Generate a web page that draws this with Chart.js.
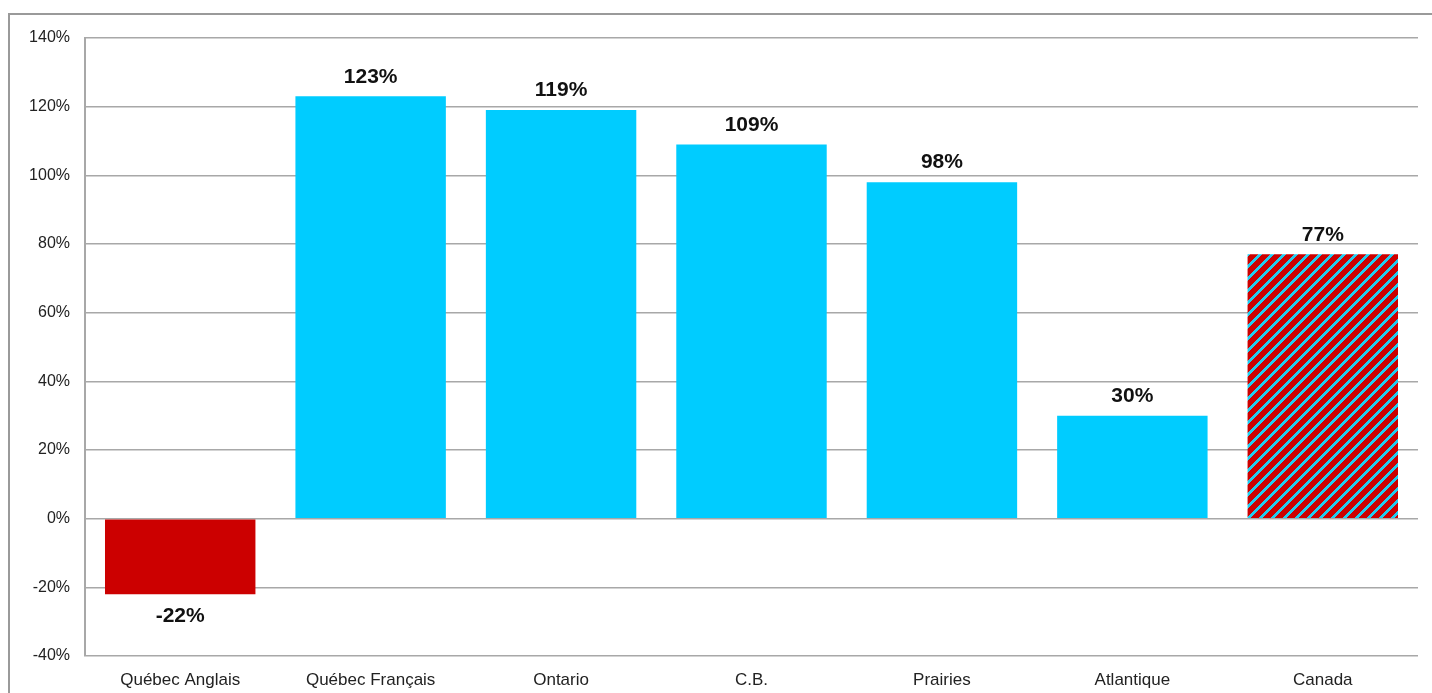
<!DOCTYPE html>
<html>
<head>
<meta charset="utf-8">
<script src="https://cdn.jsdelivr.net/npm/chart.js@4"></script>
<style>
  html, body { margin: 0; padding: 0; background: #fff; overflow: hidden; }
  #frame { position: absolute; left: 8px; top: 13px; width: 1440px; height: 700px; border: 2px solid #9a9a9a; box-sizing: border-box; }
  #wrap { position: absolute; left: 0; top: 0; width: 1432px; height: 693px; }
</style>
</head>
<body>
<div id="frame"></div>
<div id="wrap"><canvas id="chart" width="1432" height="693"></canvas></div>
<script>
// ---- Data ----
const categories = ['Québec Anglais', 'Québec Français', 'Ontario', 'C.B.', 'Prairies', 'Atlantique', 'Canada'];
const values     = [-22, 123, 119, 109, 98, 30, 77];
const yTicks     = [-40, -20, 0, 20, 40, 60, 80, 100, 120, 140];

const RED  = '#cc0000';
const CYAN = '#22ccee';
const FONT = '"Liberation Sans", Arial, sans-serif';

// ---- Striped pattern for Canada (rising diagonal stripes) ----
function makeStripes() {
  const size = 12, band = 4;
  const c = document.createElement('canvas');
  c.width = size; c.height = size;
  const g = c.getContext('2d');
  for (let y = 0; y < size; y++) {
    for (let x = 0; x < size; x++) {
      g.fillStyle = ((x + y) % size) < band ? CYAN : RED;
      g.fillRect(x, y, 1, 1);
    }
  }
  return g.createPattern(c, 'repeat');
}
const stripes = makeStripes();

const barColors = values.map((v, i) => {
  if (categories[i] === 'Canada') return stripes;
  return v < 0 ? RED : '#00ccff';
});

// ---- Value labels ----
const valueLabels = {
  id: 'valueLabels',
  afterDatasetsDraw(chart) {
    const ctx = chart.ctx;
    const meta = chart.getDatasetMeta(0);
    ctx.save();
    ctx.font = 'bold 21px ' + FONT;
    ctx.fillStyle = '#111';
    ctx.textAlign = 'center';
    meta.data.forEach((bar, i) => {
      const v = values[i];
      if (v >= 0) {
        ctx.textBaseline = 'bottom';
        ctx.fillText(v + '%', bar.x, bar.y - 9);
      } else {
        ctx.textBaseline = 'top';
        ctx.fillText(v + '%', bar.x, bar.y + 12);
      }
    });
    ctx.restore();
  }
};

new Chart(document.getElementById('chart'), {
  type: 'bar',
  data: {
    labels: categories,
    datasets: [{
      data: values,
      backgroundColor: barColors,
      borderWidth: 0,
      categoryPercentage: 1,
      barPercentage: 0.79
    }]
  },
  options: {
    responsive: false,
    animation: false,
    layout: { padding: { top: 38, right: 14, left: 0, bottom: 0 } },
    plugins: { legend: { display: false }, tooltip: { enabled: false } },
    scales: {
      x: {
        grid: { display: false },
        border: { display: false },
        ticks: { color: '#222', font: { family: FONT, size: 17 }, padding: 6, maxRotation: 0 },
        afterFit(scale) { scale.height = 37; }
      },
      y: {
        min: -40, max: 140,
        afterBuildTicks(scale) { scale.ticks = yTicks.map(v => ({ value: v })); },
        grid: { color: '#a8a8a8', lineWidth: 1.5, drawTicks: false },
        border: { display: true, color: '#a8a8a8', width: 2 },
        ticks: {
          color: '#222',
          font: { family: FONT, size: 16 },
          padding: 15,
          callback: v => v + '%'
        },
        afterFit(scale) { scale.width = 85; }
      }
    }
  },
  plugins: [valueLabels]
});
</script>
</body>
</html>
